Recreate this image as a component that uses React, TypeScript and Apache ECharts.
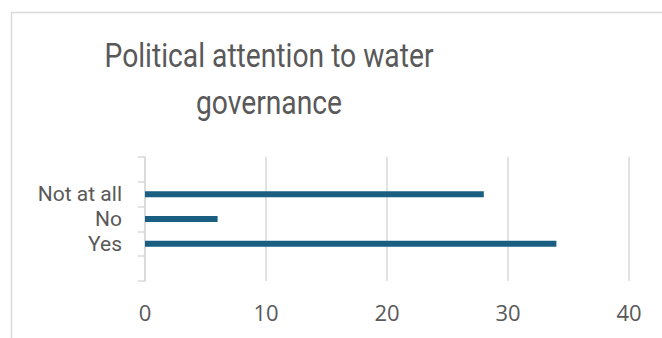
import React, { useEffect, useRef } from "react";
import * as echarts from "echarts";

const categories = [" ", "Yes", "No", "Not at all", "  "];
const values: (number | null)[] = [null, 34, 6, 28, null];
const xTicks = { min: 0, max: 40, interval: 10 };
const titleLines = ["Political attention to water", "governance"];

export default function App() {
  const ref = useRef<HTMLDivElement>(null);
  useEffect(() => {
    document.body.style.margin = "0";
    const chart = echarts.init(ref.current!, null, { renderer: "svg" });
    const titleStyle = {
      fontFamily: "Roboto, sans-serif",
      fontSize: 34,
      fontWeight: "normal",
      fill: "#595959",
      align: "center",
      verticalAlign: "middle",
    };
    chart.setOption({
      animation: false,
      backgroundColor: "#ffffff",
      graphic: [
        {
          type: "rect",
          shape: { x: 11.5, y: 12.5, width: 800, height: 500 },
          style: { fill: "none", stroke: "#d9d9d9", lineWidth: 1.5 },
          silent: true,
        },
        {
          type: "text",
          x: 269,
          y: 56,
          scaleX: 0.83,
          style: { ...titleStyle, text: titleLines[0] },
          silent: true,
        },
        {
          type: "text",
          x: 269,
          y: 103,
          scaleX: 0.83,
          style: { ...titleStyle, text: titleLines[1] },
          silent: true,
        },
      ],
      grid: { left: 145, right: 33, top: 157, bottom: 57, containLabel: false },
      xAxis: {
        type: "value",
        min: xTicks.min,
        max: xTicks.max,
        interval: xTicks.interval,
        axisLine: { show: false },
        axisTick: { show: false },
        splitLine: { show: true, lineStyle: { color: "#d9d9d9", width: 1.5 } },
        axisLabel: {
          fontFamily: "'Open Sans', sans-serif",
          fontSize: 22,
          color: "#595959",
          margin: 20,
        },
      },
      yAxis: {
        type: "category",
        data: categories,
        axisLine: { show: true, lineStyle: { color: "#d9d9d9", width: 1.5 } },
        axisTick: { show: true, length: 7, lineStyle: { color: "#d9d9d9", width: 1.5 } },
        splitLine: { show: false },
        axisLabel: {
          interval: 0,
          fontFamily: "Roboto, sans-serif",
          fontSize: 21,
          lineHeight: 23,
          color: "#595959",
          margin: 23,
        },
      },
      series: [
        {
          type: "bar",
          data: values,
          barWidth: 6,
          itemStyle: { color: "#1a5e82" },
        },
      ],
    });
    return () => chart.dispose();
  }, []);
  return <div ref={ref} style={{ width: 662, height: 338 }} />;
}
